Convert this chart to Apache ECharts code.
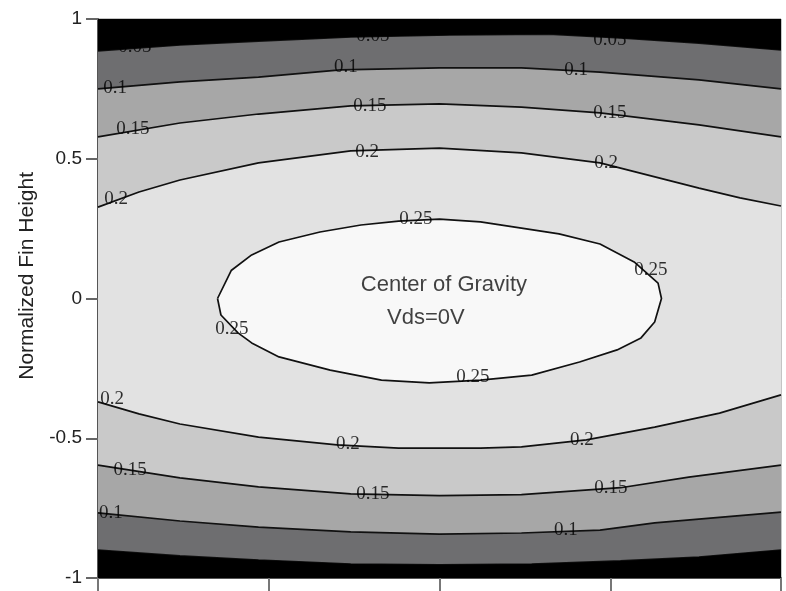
<!DOCTYPE html>
<html>
<head>
<meta charset="utf-8">
<script src="https://cdn.jsdelivr.net/npm/echarts@6/dist/echarts.min.js"></script>
<style>
html,body{margin:0;padding:0;background:#fff;}
#chart{width:786px;height:591px;}
</style>
</head>
<body>
<div id="chart"></div>
<script>
// Contour lines, [x, y] in data coordinates
const top005 = [[-1,0.886],[-0.76,0.907],[-0.53,0.921],[-0.26,0.936],[0.03,0.943],[0.32,0.946],[0.53,0.932],[0.76,0.914],[1,0.889]];
const top010 = [[-1,0.750],[-0.76,0.775],[-0.53,0.792],[-0.29,0.818],[0,0.825],[0.24,0.825],[0.47,0.810],[0.76,0.782],[1,0.750]];
const top015 = [[-1,0.578],[-0.76,0.628],[-0.53,0.660],[-0.26,0.689],[0,0.696],[0.24,0.685],[0.47,0.664],[0.76,0.621],[1,0.578]];
const top020 = [[-1,0.327],[-0.88,0.381],[-0.76,0.424],[-0.53,0.485],[-0.26,0.528],[0,0.538],[0.24,0.521],[0.47,0.485],[0.76,0.395],[0.88,0.360],[1,0.331]];
const ring025 = [[-0.65,0],[-0.61,0.10],[-0.55,0.156],[-0.47,0.202],[-0.35,0.238],[-0.23,0.263],[-0.12,0.277],[0,0.284],[0.12,0.274],[0.24,0.252],[0.35,0.231],[0.47,0.195],[0.57,0.131],[0.64,0.055],[0.65,0],[0.63,-0.084],[0.59,-0.141],[0.52,-0.184],[0.41,-0.227],[0.27,-0.274],[0.12,-0.292],[-0.03,-0.302],[-0.17,-0.292],[-0.32,-0.256],[-0.47,-0.209],[-0.55,-0.159],[-0.59,-0.123],[-0.64,-0.059],[-0.65,0]];
const bot020 = [[-1,-0.370],[-0.88,-0.413],[-0.76,-0.449],[-0.53,-0.496],[-0.30,-0.524],[-0.12,-0.535],[0.12,-0.535],[0.24,-0.531],[0.43,-0.506],[0.63,-0.460],[0.82,-0.410],[1,-0.345]];
const bot015 = [[-1,-0.596],[-0.76,-0.642],[-0.53,-0.674],[-0.26,-0.699],[0,-0.705],[0.24,-0.702],[0.53,-0.677],[0.73,-0.639],[1,-0.596]];
const bot010 = [[-1,-0.767],[-0.76,-0.796],[-0.53,-0.818],[-0.26,-0.835],[0,-0.843],[0.24,-0.839],[0.47,-0.829],[0.63,-0.803],[1,-0.764]];
const bot005 = [[-1,-0.900],[-0.76,-0.921],[-0.53,-0.936],[-0.26,-0.950],[0,-0.953],[0.27,-0.950],[0.53,-0.939],[0.76,-0.925],[1,-0.900]];

// Contour labels: [text, x, y]
const contourLabels = [
  ["0.05",-0.892,0.900],["0.05",-0.195,0.939],["0.05",0.499,0.925],
  ["0.1",-0.950,0.753],["0.1",-0.274,0.828],["0.1",0.400,0.818],
  ["0.15",-0.898,0.606],["0.15",-0.204,0.689],["0.15",0.499,0.664],
  ["0.2",-0.947,0.356],["0.2",-0.212,0.524],["0.2",0.488,0.485],
  ["0.25",-0.069,0.284],["0.25",-0.608,-0.109],["0.25",0.619,0.102],["0.25",0.098,-0.281],
  ["0.2",-0.959,-0.360],["0.2",-0.268,-0.521],["0.2",0.417,-0.506],
  ["0.15",-0.906,-0.614],["0.15",-0.195,-0.699],["0.15",0.502,-0.678],
  ["0.1",-0.962,-0.767],["0.1",0.370,-0.828]
];
const notes = [["Center of Gravity",0.013,0.048],["Vds=0V",-0.040,-0.071]];
const yTicks = [-1,-0.5,0,0.5,1];

const bandColors = ['#6e6e70','#a7a7a7','#c9c9c9','#e2e2e2','#f8f8f8'];
const bands = [
  top005.concat(bot005.slice().reverse()),
  top010.concat(bot010.slice().reverse()),
  top015.concat(bot015.slice().reverse()),
  top020.concat(bot020.slice().reverse()),
  ring025
];
const caps = [
  top005.concat([[1,1],[-1,1]]),
  bot005.concat([[1,-1],[-1,-1]])
];
const lines = [top005,top010,top015,top020,ring025,bot020,bot015,bot010,bot005];

function polySeries(polys, colors, z){
  return {
    type:'custom', coordinateSystem:'cartesian2d', z:z, silent:true, clip:true,
    data: polys.map((p,i)=>[0,0,i]),
    renderItem: function(params, api){
      const poly = polys[params.dataIndex];
      return {type:'polygon', shape:{points: poly.map(p=>api.coord(p))},
              style:{fill: colors[params.dataIndex], stroke:null}};
    }
  };
}

const series = [];
series.push(polySeries(bands, bandColors, 1));
lines.forEach(l=>series.push({
  type:'line', data:l, showSymbol:false, silent:true, z:2,
  lineStyle:{color:'#111', width:1.7}, animation:false
}));
series.push({
  type:'scatter', z:3, silent:true, symbolSize:0,
  data: contourLabels.map(l=>[l[1],l[2],l[0]]),
  label:{show:true, position:'inside', formatter:p=>p.value[2],
         fontFamily:'Liberation Serif', fontSize:19, color:'#000'}
});
series.push(polySeries(caps, ['#000','#000'], 4));
series.push({
  type:'scatter', z:5, silent:true, symbolSize:0,
  data: notes.map(n=>[n[1],n[2],n[0]]),
  label:{show:true, position:'inside', formatter:p=>p.value[2],
         fontFamily:'Liberation Sans', fontSize:22, color:'#111'}
});

const chart = echarts.init(document.getElementById('chart'), null, {renderer:'canvas'});
chart.setOption({
  animation:false,
  backgroundColor:'#fff',
  grid:{left:98, right:5, top:19, bottom:13, show:true, backgroundColor:'#000', borderColor:'#8a8a8a', borderWidth:1},
  xAxis:{type:'value', min:-1, max:1, interval:0.5,
    axisLine:{show:true, onZero:false, lineStyle:{color:'#555', width:2}},
    axisTick:{show:true, length:13, lineStyle:{color:'#777', width:2}},
    axisLabel:{show:false}, splitLine:{show:false}},
  yAxis:{type:'value', min:-1, max:1, interval:0.5,
    axisLine:{show:true, onZero:false, lineStyle:{color:'#555', width:2}},
    axisTick:{show:true, length:12, lineStyle:{color:'#666', width:2}},
    axisLabel:{show:true, margin:16, fontFamily:'Liberation Sans', fontSize:19, color:'#222',
      formatter:v=>yTicks.indexOf(v)>=0 ? String(v) : ''},
    splitLine:{show:false}},
  graphic:[{type:'text', left:17, top:172, rotation:Math.PI/2,
    style:{text:'Normalized Fin Height', font:'21px "Liberation Sans"', fill:'#222'}}],
  series:series
});
</script>
</body>
</html>
